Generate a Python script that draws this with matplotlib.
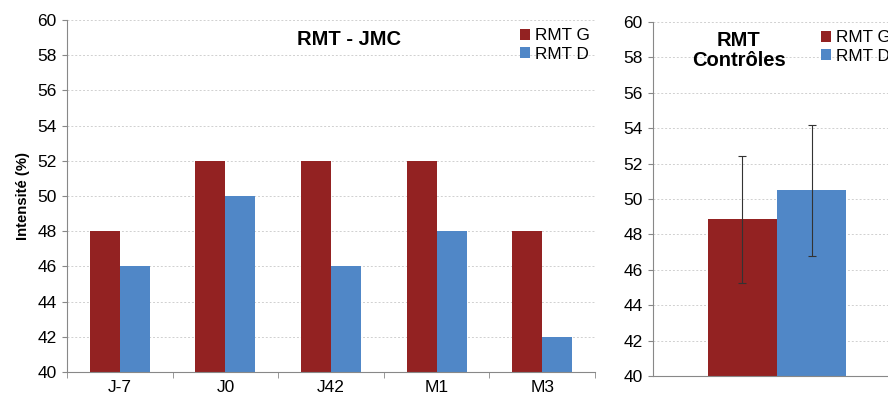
import numpy as np
import matplotlib.pyplot as plt

plt.rcParams['font.family'] = ['Liberation Sans', 'DejaVu Sans']

categories = ['J-7', 'J0', 'J42', 'M1', 'M3']
rmt_g = [48, 52, 52, 52, 48]
rmt_d = [46, 50, 46, 48, 42]

ctrl_g = 48.85
ctrl_d = 50.5
ctrl_g_err = 3.6
ctrl_d_err = 3.7

red = '#932222'
blue = '#5087C7'
yticks = np.arange(40, 61, 2)

fig = plt.figure(figsize=(8.88, 3.97), dpi=100)


def style_axes(ax):
    ax.set_ylim(40, 60)
    ax.set_yticks(yticks)
    ax.tick_params(axis='y', labelsize=12.5, length=3.6, color='#888888', pad=4)
    ax.grid(axis='y', color='#d0d0d0', linestyle=(0, (2, 2)), linewidth=0.7)
    ax.set_axisbelow(True)
    for s in ['top', 'right']:
        ax.spines[s].set_visible(False)
    for s in ['left', 'bottom']:
        ax.spines[s].set_color('#888888')


# left chart
ax1 = fig.add_axes([67 / 888, 25 / 397, 528 / 888, 352 / 397])
x = np.arange(len(categories))
w = 0.285
ax1.bar(x - w / 2, rmt_g, w, color=red, label='RMT G')
ax1.bar(x + w / 2, rmt_d, w, color=blue, label='RMT D')
style_axes(ax1)
ax1.set_xlim(-0.5, len(categories) - 0.5)
ax1.set_xticks(x)
ax1.set_xticklabels(categories, fontsize=12.5)
ax1.tick_params(axis='x', which='major', length=0, pad=6)
ax1.set_xticks(np.arange(-0.5, len(categories), 1), minor=True)
ax1.tick_params(axis='x', which='minor', length=4, color='#888888')
ax1.set_ylabel('Intensité (%)', fontsize=10.7, fontweight='bold', labelpad=5)
ax1.text(0.535, 0.945, 'RMT - JMC', transform=ax1.transAxes, fontsize=14.5,
         fontweight='bold', ha='center', va='center')
ax1.legend(loc='upper right', bbox_to_anchor=(1.01, 1.005), frameon=False,
           fontsize=12.3, handlelength=0.6, handleheight=0.6,
           handletextpad=0.3, labelspacing=0.2, borderaxespad=0.2)

# right chart
ax2 = fig.add_axes([653 / 888, 21 / 397, 248 / 888, 354 / 397])
w2 = 0.28
ax2.bar(-w2 / 2, ctrl_g, w2, color=red, label='RMT G',
        yerr=ctrl_g_err, ecolor='#333333', capsize=3,
        error_kw={'elinewidth': 0.8, 'capthick': 0.8})
ax2.bar(w2 / 2, ctrl_d, w2, color=blue, label='RMT D',
        yerr=ctrl_d_err, ecolor='#333333', capsize=3,
        error_kw={'elinewidth': 0.8, 'capthick': 0.8})
style_axes(ax2)
ax2.set_xlim(-0.5, 0.5)
ax2.set_xticks([])
ax2.text(0.345, 0.92, 'RMT\nContrôles', transform=ax2.transAxes, fontsize=14.5,
         fontweight='bold', ha='center', va='center', linespacing=1.05)
ax2.legend(loc='upper left', bbox_to_anchor=(0.635, 1.005), frameon=False,
           fontsize=12.3, handlelength=0.6, handleheight=0.6,
           handletextpad=0.3, labelspacing=0.2, borderaxespad=0.2)

fig.savefig('out.png', dpi=100)
